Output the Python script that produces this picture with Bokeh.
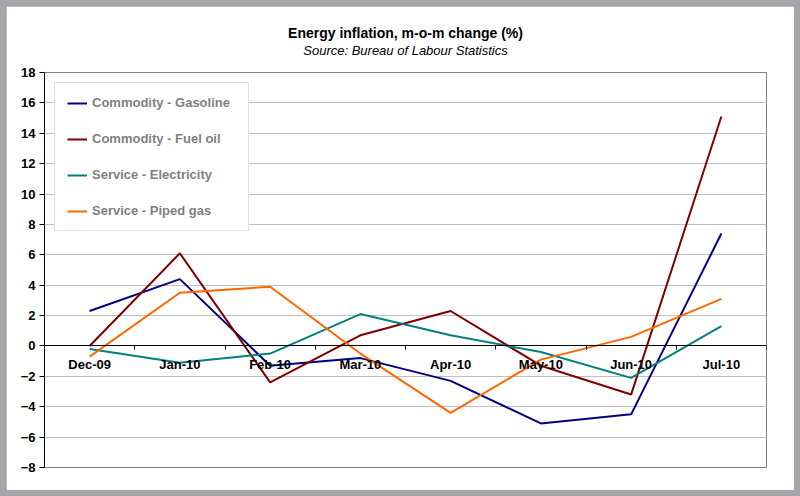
from bokeh.plotting import figure
from bokeh.layouts import column
from bokeh.models import Range1d, FixedTicker, Legend, LegendItem, Title
from bokeh.embed import file_html
from bokeh.resources import INLINE

categories = ["Dec-09", "Jan-10", "Feb-10", "Mar-10", "Apr-10", "May-10", "Jun-10", "Jul-10"]
gasoline = [2.3, 4.4, -1.3, -0.8, -2.3, -5.1, -4.5, 7.4]
fuel_oil = [0.0, 6.1, -2.4, 0.7, 2.3, -1.3, -3.2, 15.1]
electricity = [-0.2, -1.1, -0.5, 2.1, 0.7, -0.4, -2.1, 1.3]
piped_gas = [-0.7, 3.5, 3.9, -0.5, -4.4, -0.9, 0.6, 3.1]
y_ticks = list(range(-8, 19, 2))

series = [
    ("Commodity - Gasoline", gasoline, "#000080"),
    ("Commodity - Fuel oil", fuel_oil, "#800000"),
    ("Service - Electricity", electricity, "#008080"),
    ("Service - Piped gas", piped_gas, "#FF6600"),
]

FONT = "Liberation Sans"
n = len(categories)
xs = [i + 0.5 for i in range(n)]

p = figure(width=788, height=484, output_backend="svg", toolbar_location=None,
           x_range=Range1d(0, n), y_range=Range1d(y_ticks[0], y_ticks[-1]),
           min_border_left=38, min_border_right=28, min_border_bottom=23,
           min_border_top=66)
p.background_fill_color = "white"
p.border_fill_color = "white"
p.outline_line_color = "#808080"
p.outline_line_width = 1

p.add_layout(Title(text="Source: Bureau of Labour Statistics\n", align="center",
                   text_font=FONT, text_font_size="13px", text_font_style="italic",
                   text_color="#000000", standoff=0, offset=-9), "above")
p.add_layout(Title(text="Energy inflation, m-o-m change (%)", align="center",
                   text_font=FONT, text_font_size="14px", text_font_style="bold",
                   text_color="#000000", standoff=0, offset=-4), "above")

# grid
p.xgrid.visible = False
p.ygrid.grid_line_color = "#c0c0c0"
p.ygrid.grid_line_width = 1.2

# y axis
p.yaxis.ticker = FixedTicker(ticks=y_ticks)
p.yaxis.axis_line_color = "#000000"
p.yaxis.major_tick_line_color = "#000000"
p.yaxis.major_tick_out = 5
p.yaxis.major_tick_in = 0
p.yaxis.minor_tick_line_color = None
p.yaxis.major_label_standoff = 4
p.yaxis.major_label_text_font = FONT
p.yaxis.major_label_text_font_size = "13px"
p.yaxis.major_label_text_font_style = "bold"
p.yaxis.major_label_text_color = "#000000"

# x axis crossing at zero
p.xaxis.ticker = FixedTicker(ticks=xs, minor_ticks=list(range(0, n + 1)))
p.xaxis.major_label_overrides = {x: c for x, c in zip(xs, categories)}
p.xaxis.fixed_location = 0
p.xaxis.axis_line_color = "#000000"
p.xaxis.major_tick_line_color = None
p.xaxis.major_tick_out = 0
p.xaxis.major_tick_in = 0
p.xaxis.minor_tick_line_color = "#000000"
p.xaxis.minor_tick_out = 4
p.xaxis.minor_tick_in = 0
p.xaxis.major_label_standoff = 7
p.xaxis.major_label_text_font = FONT
p.xaxis.major_label_text_font_size = "13px"
p.xaxis.major_label_text_font_style = "bold"
p.xaxis.major_label_text_color = "#000000"

items = []
for name, vals, color in series:
    r = p.line(xs, vals, line_color=color, line_width=2)
    items.append(LegendItem(label=name, renderers=[r]))

legend = Legend(items=items, location="top_left", margin=10, padding=12,
                spacing=21, label_height=14, glyph_height=14, glyph_width=20,
                label_standoff=5, label_width=144,
                border_line_color="#c0c0c0", border_line_width=1.5,
                background_fill_color="white", background_fill_alpha=1.0,
                label_text_font=FONT, label_text_font_size="13px",
                label_text_font_style="bold", label_text_color="#7f7f7f")
p.add_layout(legend)

layout = column(p, width=800, height=496,
                styles={"background-color": "#a6a6aa", "padding": "6px",
                        "box-sizing": "border-box"})

open("out.html", "w").write(file_html(layout, INLINE))
